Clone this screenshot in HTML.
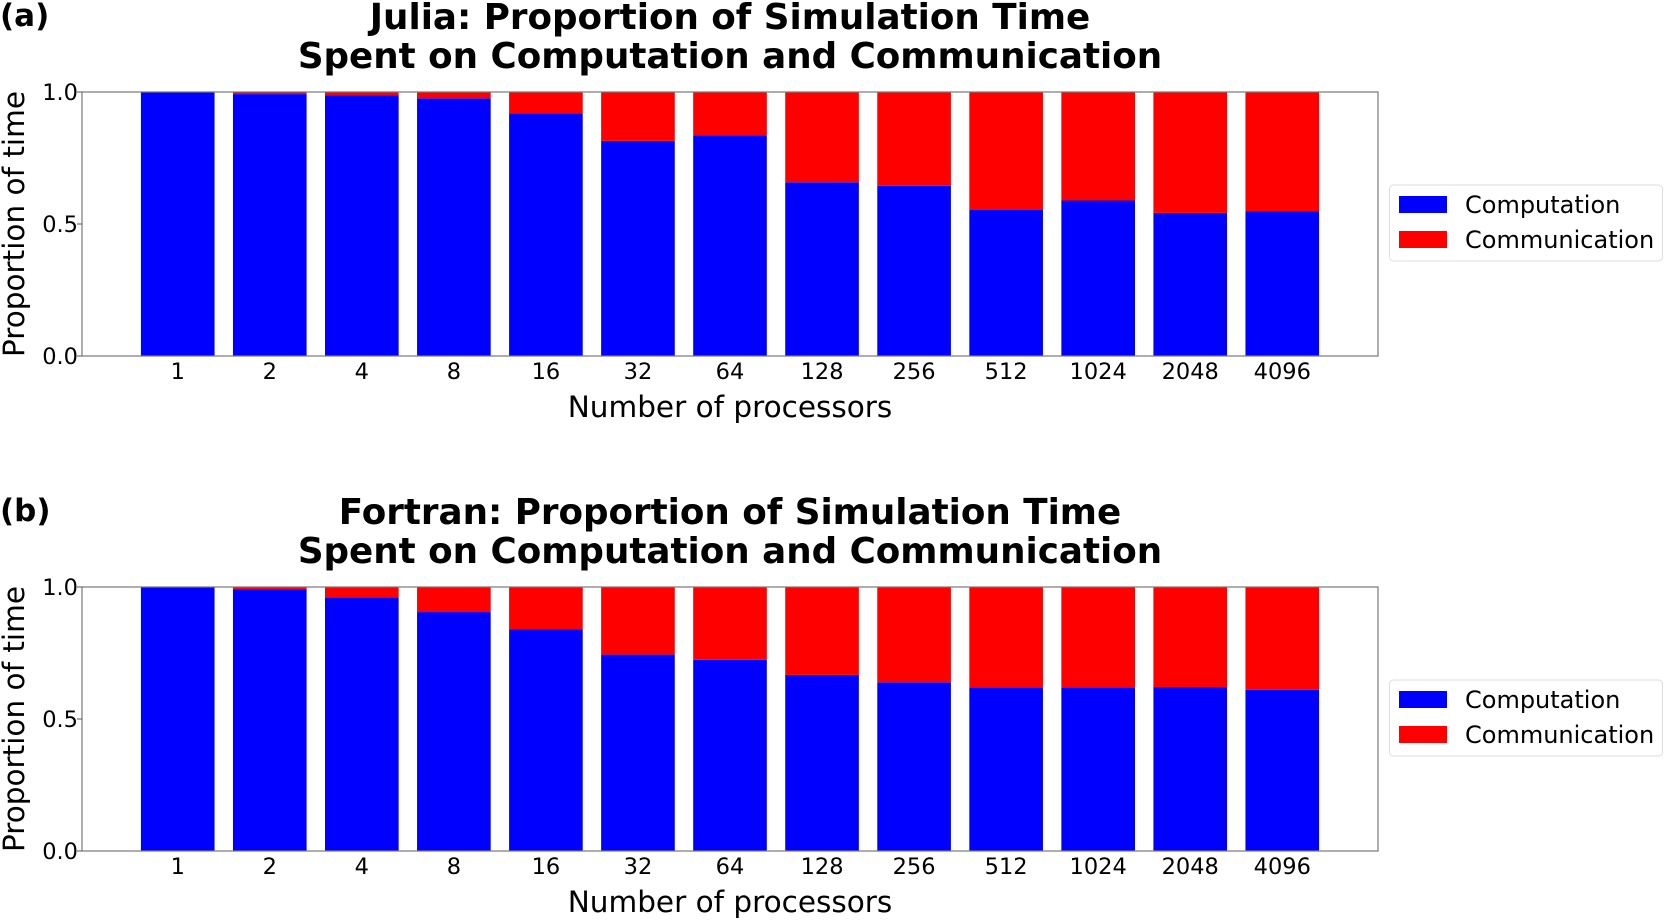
<!DOCTYPE html>
<html><head><meta charset="utf-8">
<style>
html,body{margin:0;padding:0;background:#fff;}
svg{display:block;font-family:"DejaVu Sans","Liberation Sans",sans-serif;}
</style></head>
<body>
<svg id="chart" width="1664" height="920" viewBox="0 0 1664 920"></svg>
<script>
const categories = ["1","2","4","8","16","32","64","128","256","512","1024","2048","4096"];
const juliaComputation = [1.0,0.992,0.988,0.976,0.919,0.815,0.835,0.658,0.645,0.553,0.589,0.542,0.549];
const fortranComputation = [1.0,0.992,0.961,0.905,0.839,0.744,0.724,0.667,0.639,0.619,0.619,0.621,0.611];
const yTicks = [0.0,0.5,1.0];
const yTickLabels = ["0.0","0.5","1.0"];
const panels = [
  {key:"julia",letter:"(a)",t1:"Julia: Proportion of Simulation Time",t2:"Spent on Computation and Communication",top:92,vals:juliaComputation},
  {key:"fortran",letter:"(b)",t1:"Fortran: Proportion of Simulation Time",t2:"Spent on Computation and Communication",top:587,vals:fortranComputation}
];
const svg = document.getElementById('chart');
const NS = "http://www.w3.org/2000/svg";
function mk(tag, attrs, parent){const e=document.createElementNS(NS,tag);for(const k in attrs)e.setAttribute(k,attrs[k]);(parent||svg).appendChild(e);return e;}
const L=82,R=1378,H=264,xmin=-1.04,xmax=13.04;
const xs = v => L+(v-xmin)/(xmax-xmin)*(R-L);
const bw = 0.8*(R-L)/(xmax-xmin);
panels.forEach(p=>{
  const T=p.top,B=T+H;
  const ys = v => B - v*H;
  const g = mk('g',{});
  
  
  let t = mk('text',{x:0,y:T-66,'font-size':31,'font-weight':'bold'},g); t.textContent=p.letter;
   
  t = mk('text',{x:730,y:T-63,'font-size':35.7,'font-weight':'bold','text-anchor':'middle'},g); t.textContent=p.t1;
   
  t = mk('text',{x:730,y:T-24,'font-size':35.7,'font-weight':'bold','text-anchor':'middle'},g); t.textContent=p.t2;
   
  categories.forEach((c,i)=>{
    const x = xs(i)-bw/2, v=p.vals[i];
    let r = mk('rect',{x:x,y:ys(v),width:bw,height:ys(0)-ys(v),fill:'#0000ff'},g);
    
    
    r = mk('rect',{x:x,y:ys(1),width:bw,height:ys(v)-ys(1),fill:'#ff0000'},g);
    
    
    const tl = mk('text',{x:xs(i),y:B+23,'font-size':22.5,'text-anchor':'middle'},g); tl.textContent=c;
     
  });
  mk('rect',{x:L,y:T,width:R-L,height:H,fill:'none',stroke:'#777','stroke-width':1.2},g);
  yTicks.forEach((v,i)=>{
    mk('line',{x1:L-5,x2:L,y1:ys(v),y2:ys(v),stroke:'#555'},g);
    const tl = mk('text',{x:L-4,y:ys(v)+8,'font-size':22.5,'text-anchor':'end'},g); tl.textContent=yTickLabels[i];
     
  });
  t = mk('text',{x:(L+R)/2,y:B+61,'font-size':29.5,'text-anchor':'middle'},g); t.textContent="Number of processors";
   
  t = mk('text',{x:0,y:0,'font-size':29.5,'text-anchor':'middle',transform:`translate(24,${T+H/2}) rotate(-90)`},g); t.textContent="Proportion of time";
   
  const lg = mk('g',{},g);
   
  const ly = T+93;
  mk('rect',{x:1389.5,y:ly,width:273,height:76,rx:4,fill:'#fff',stroke:'#ddd'},lg);
  [["Computation","#0000ff"],["Communication","#ff0000"]].forEach((e,k)=>{
    const yy = ly+11+k*35;
    mk('rect',{x:1399,y:yy,width:48,height:17,fill:e[1]},lg);
    const tt = mk('text',{x:1465,y:yy+17,'font-size':24},lg); tt.textContent=e[0];
    
    
  });
});
</script>
</body></html>
